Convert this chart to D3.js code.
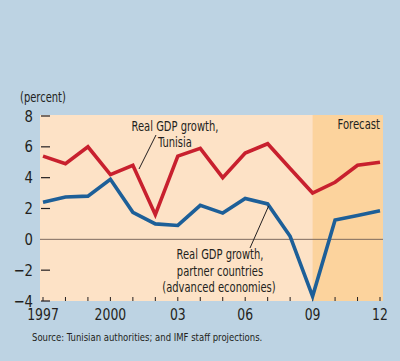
<!DOCTYPE html>
<html>
<head>
<meta charset="utf-8">
<script src="https://cdn.jsdelivr.net/npm/d3@7"></script>
<style>
  html, body { margin: 0; padding: 0; background: #bdd3e3; }
  text { font-family: "Liberation Sans Narrow", "DejaVu Sans Condensed", "Arial Narrow", sans-serif; fill: #231f20; }
</style>
</head>
<body>
<div id="main"></div>
<script>
const width = 400;
const height = 361;

const years = [1997, 1998, 1999, 2000, 2001, 2002, 2003, 2004, 2005, 2006, 2007, 2008, 2009, 2010, 2011, 2012];
const tunisia = [5.4, 4.9, 6.0, 4.2, 4.8, 1.6, 5.4, 5.9, 4.0, 5.6, 6.2, 4.6, 3.0, 3.7, 4.8, 5.0];
const partners = [2.4, 2.75, 2.8, 3.9, 1.75, 1.0, 0.9, 2.2, 1.7, 2.65, 2.3, 0.2, -3.7, 1.25, 1.55, 1.85];
const yTicks = [-4, -2, 0, 2, 4, 6, 8];
const xLabels = [[1997, "1997"], [2000, "2000"], [2003, "03"], [2006, "06"], [2009, "09"], [2012, "12"]];
const forecastStart = 2009;

const svg = d3.select("#main").append("svg").attr("width", width).attr("height", height);

svg.append("rect").attr("width", width).attr("height", height).attr("fill", "#bdd3e3");

const x = d3.scaleLinear().domain([1997, 2012]).range([43, 380]);
const y = d3.scaleLinear().domain([-4, 8]).range([301, 116]);

const plotLeft = 40, plotRight = 383, plotTop = 115, plotBottom = 301;

// condensed text: the original face is narrower than anything installed
const label = (str, px, py, size, anchor, squeeze) => {
  svg.append("g")
    .attr("transform", `translate(${px},${py}) scale(${squeeze},1)`)
    .append("text")
    .attr("text-anchor", anchor)
    .style("font-size", size + "px")
    .text(str);
};

svg.append("rect")
  .attr("x", plotLeft).attr("y", plotTop)
  .attr("width", plotRight - plotLeft).attr("height", plotBottom - plotTop)
  .attr("fill", "#fde2c6");

svg.append("rect")
  .attr("x", x(forecastStart)).attr("y", plotTop)
  .attr("width", plotRight - x(forecastStart)).attr("height", plotBottom - plotTop)
  .attr("fill", "#fcd39d");

// y ticks and labels
yTicks.forEach((t) => {
  if (t !== 0) {
    svg.append("line")
      .attr("x1", plotLeft + 1).attr("x2", plotLeft + 10)
      .attr("y1", y(t)).attr("y2", y(t))
      .attr("stroke", "#231f20").attr("stroke-width", 1.2);
  }
  label(t < 0 ? "\u2212" + Math.abs(t) : String(t), 33, y(t) + 5.5, 16, "end", 0.92);
});

// zero line
svg.append("line")
  .attr("x1", plotLeft).attr("x2", plotRight)
  .attr("y1", y(0)).attr("y2", y(0))
  .attr("stroke", "#7d6a5e").attr("stroke-width", 1);

// x ticks
years.forEach((yr) => {
  svg.append("line")
    .attr("x1", x(yr)).attr("x2", x(yr))
    .attr("y1", plotBottom).attr("y2", plotBottom - 4)
    .attr("stroke", "#231f20").attr("stroke-width", 1);
});

xLabels.forEach(([yr, lab]) => {
  label(lab, x(yr), 320, 15, "middle", 0.92);
});

const line = d3.line().x((d, i) => x(years[i])).y((d) => y(d));

svg.append("path")
  .datum(tunisia)
  .attr("d", line)
  .attr("fill", "none")
  .attr("stroke", "#c8202e")
  .attr("stroke-width", 3.6);

svg.append("path")
  .datum(partners)
  .attr("d", line)
  .attr("fill", "none")
  .attr("stroke", "#1d5f98")
  .attr("stroke-width", 3.6);

// annotations
label("(percent)", 20, 102, 14, "start", 0.79);
label("Forecast", 380, 129, 14, "end", 0.8);

label("Real GDP growth,", 175, 131, 14, "middle", 0.79);
label("Tunisia", 175, 147, 14, "middle", 0.79);

svg.append("line")
  .attr("x1", 156).attr("y1", 135).attr("x2", 139).attr("y2", 169)
  .attr("stroke", "#231f20").attr("stroke-width", 1);

label("Real GDP growth,", 220, 259, 14, "middle", 0.79);
label("partner countries", 220, 275.5, 14, "middle", 0.79);
label("(advanced economies)", 219, 292, 14, "middle", 0.79);

svg.append("line")
  .attr("x1", x(2007) + 1).attr("y1", y(partners[10]) + 2).attr("x2", 250).attr("y2", 248)
  .attr("stroke", "#231f20").attr("stroke-width", 1);

label("Source: Tunisian authorities; and IMF staff projections.", 32, 341, 11, "start", 0.86);
</script>
</body>
</html>
